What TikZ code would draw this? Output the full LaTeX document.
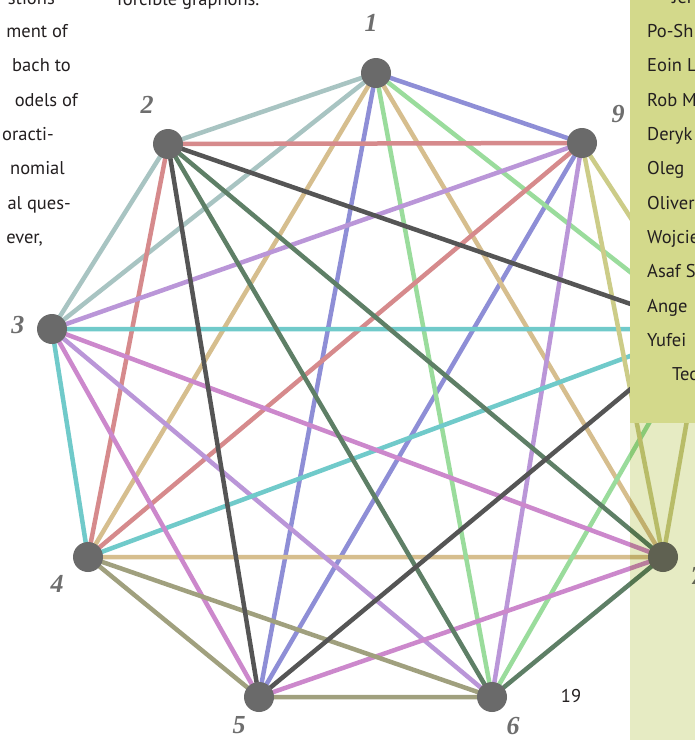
\documentclass[tikz,border=0pt]{standalone}
\usepackage{fontspec}
\setmainfont{PT Sans}
\newfontfamily\labfont{Liberation Serif}
\definecolor{cTeal}{HTML}{A8C4C2}
\definecolor{cBlue}{HTML}{8E8ED6}
\definecolor{cTan}{HTML}{D6BE8E}
\definecolor{cGreen}{HTML}{9ADC9C}
\definecolor{cRed}{HTML}{D68A8C}
\definecolor{cDark}{HTML}{555555}
\definecolor{cDGreen}{HTML}{5E7F66}
\definecolor{cLav}{HTML}{BA96D8}
\definecolor{cCyan}{HTML}{70CACA}
\definecolor{cMag}{HTML}{CC88CC}
\definecolor{cOlive}{HTML}{A0A07E}
\definecolor{cYel}{HTML}{CCCC88}
\definecolor{boxcol}{HTML}{D3D98B}
\definecolor{panelcol}{HTML}{E6EBC3}
\definecolor{vertcol}{HTML}{6A6A6A}
\definecolor{labcol}{HTML}{6E6E6E}
\definecolor{txtcol}{HTML}{231F20}
\pgfdeclarelayer{bglayer}
\pgfdeclarelayer{edgelayer}
\pgfsetlayers{bglayer,edgelayer,main}
\tikzset{
  vtx/.style={circle,fill=vertcol,minimum size=30pt,inner sep=0pt},
  edge/.style={line width=4.5pt},
  vlab/.style={font=\labfont\bfseries\itshape\fontsize{26}{26}\selectfont,text=labcol,inner sep=0pt},
  bodytxt/.style={font=\fontsize{18.5}{21}\selectfont,text=txtcol,inner sep=0pt},
}
\begin{document}
\begin{tikzpicture}[x=1pt,y=-1pt]
\useasboundingbox (0,0) rectangle (695,740);
\begin{pgfonlayer}{bglayer}
\fill[white] (0,0) rectangle (695,740);
\end{pgfonlayer}
\begin{scope}
\clip (0,0) rectangle (695,740);
% vertices
\node[vtx] (v1) at (376,73) {};
\node[vtx] (v2) at (168,144) {};
\node[vtx] (v3) at (52,329) {};
\node[vtx] (v4) at (88,557) {};
\node[vtx] (v5) at (259,697) {};
\node[vtx] (v6) at (492,697) {};
\node[vtx] (v7) at (663,557) {};
\node[vtx] (v8) at (703,329) {};
\node[vtx] (v9) at (582,143) {};
% edges
\begin{pgfonlayer}{edgelayer}
\draw[edge,cTeal] (v1.center) -- (v2.center) -- (v3.center) -- (v1.center);
\draw[edge,cBlue] (v1.center) -- (v5.center) (v5.center) -- (v9.center) (v9.center) -- (v1.center);
\draw[edge,cTan] (v1.center) -- (v4.center) (v4.center) -- (v7.center) (v7.center) -- (v1.center);
\draw[edge,cGreen] (v1.center) -- (v6.center) (v6.center) -- (v8.center) (v8.center) -- (v1.center);
\draw[edge,cRed] (v2.center) -- (v4.center) (v4.center) -- (v9.center) (v9.center) -- (v2.center);
\draw[edge,cLav] (v3.center) -- (v6.center) (v6.center) -- (v9.center) (v9.center) -- (v3.center);
\draw[edge,cCyan] (v3.center) -- (v4.center) (v4.center) -- (v8.center) (v8.center) -- (v3.center);
\draw[edge,cMag] (v3.center) -- (v5.center) (v5.center) -- (v7.center) (v7.center) -- (v3.center);
\draw[edge,cOlive] (v4.center) -- (v5.center) (v5.center) -- (v6.center) (v6.center) -- (v4.center);
\draw[edge,cYel] (v7.center) -- (v8.center) (v8.center) -- (v9.center) (v9.center) -- (v7.center);
\draw[edge,cDGreen] (v2.center) -- (v6.center) (v6.center) -- (v7.center) (v7.center) -- (v2.center);
\draw[edge,cDark] (v2.center) -- (v5.center) (v5.center) -- (v8.center) (v8.center) -- (v2.center);
\end{pgfonlayer}
% vertex labels
\node[vlab] (l1) at (371,23) {1};
\node[vlab] (l2) at (147,105) {2};
\node[vlab] (l9) at (618,114) {9};
\node[vlab] (l3) at (18,325) {3};
\node[vlab] (l4) at (57,584) {4};
\node[vlab] (l5) at (239,725) {5};
\node[vlab] (l6) at (513,726) {6};
\node[vlab] (l7) at (697,576) {7};
% page text, left column (cut)
\node[bodytxt,anchor=base east] (t0) at (55,4) {stions};
\node[bodytxt,anchor=base east] (t1) at (68,37) {ment of};
\node[bodytxt,anchor=base east] (t2) at (71,71.5) {bach to};
\node[bodytxt,anchor=base east] (t3) at (78,106) {odels of};
\node[bodytxt,anchor=base east] (t4) at (54,140) {oracti-};
\node[bodytxt,anchor=base east] (t5) at (65,174.5) {nomial};
\node[bodytxt,anchor=base east] (t6) at (71,209) {al ques-};
\node[bodytxt,anchor=base east] (t7) at (43,243) {ever,};
\node[bodytxt,anchor=base west] (top) at (117,5) {forcible graphons.};
\node[bodytxt,anchor=base] (pg) at (571,702) {19};
% side box
\fill[boxcol] (630,0) rectangle (700,423);
\fill[panelcol,blend mode=multiply] (630,423) rectangle (700,745);
\node[bodytxt,anchor=base west] (n0) at (672,3) {Jer};
\node[bodytxt,anchor=base west] (n1) at (647,37.5) {Po-Sh};
\node[bodytxt,anchor=base west] (n2) at (647,71.5) {Eoin L};
\node[bodytxt,anchor=base west] (n3) at (647,106) {Rob M};
\node[bodytxt,anchor=base west] (n4) at (647,140) {Deryk};
\node[bodytxt,anchor=base west] (n5) at (647,174.5) {Oleg};
\node[bodytxt,anchor=base west] (n6) at (647,209) {Oliver};
\node[bodytxt,anchor=base west] (n7) at (647,243) {Wojcie};
\node[bodytxt,anchor=base west] (n8) at (647,277.5) {Asaf S};
\node[bodytxt,anchor=base west] (n9) at (647,312) {Ange};
\node[bodytxt,anchor=base west] (n10) at (647,346) {Yufei};
\node[bodytxt,anchor=base west] (n11) at (672,380.5) {Tec};
\end{scope}
\end{tikzpicture}
\end{document}
